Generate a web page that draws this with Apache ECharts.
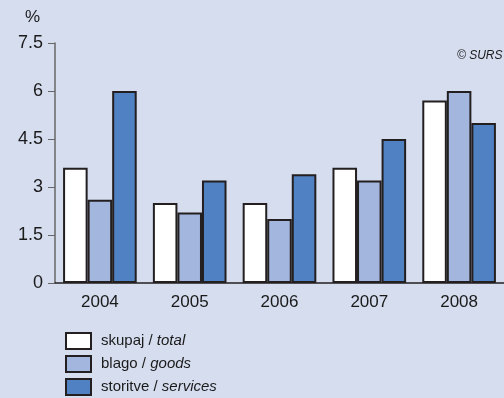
<!DOCTYPE html>
<html><head><meta charset="utf-8">
<script src="https://cdn.jsdelivr.net/npm/echarts@6/dist/echarts.min.js"></script>
<style>html,body{margin:0;padding:0;background:#d5ddef}#c{width:504px;height:398px}</style>
</head><body><div id="c"></div>
<script>
const categories = ['2004','2005','2006','2007','2008'];
const total = [3.6, 2.5, 2.5, 3.6, 5.7];
const goods = [2.6, 2.2, 2.0, 3.2, 6.0];
const services = [6.0, 3.2, 3.4, 4.5, 5.0];
const seriesNames = [['skupaj / ','total'],['blago / ','goods'],['storitve / ','services']];
const colors = ['#ffffff','#a3b6dd','#4f81c3'];
const chart = echarts.init(document.getElementById('c'));
const fam = 'Liberation Sans';
const mk = (i, data) => ({
  name: seriesNames[i][0] + seriesNames[i][1],
  type: 'bar', data, barGap: '0%', barCategoryGap: '18%',
  itemStyle: {color: colors[i], borderColor: '#231f20', borderWidth: 2},
  animation: false
});
chart.setOption({
  backgroundColor: '#d5ddef',
  textStyle: {fontFamily: fam},
  grid: {left: 55, right: -8, top: 43, bottom: 115, containLabel: false},
  graphic: [
    {type: 'text', left: 25, top: 9, style: {text: '%', font: '17px ' + fam, fill: '#1a1a1a'}},
    {type: 'text', left: 457, top: 50, style: {text: '© SURS', font: 'italic 12px ' + fam, fill: '#1a1a1a'}}
  ],
  legend: {
    orient: 'vertical', left: 65, top: 332, height: 70, itemWidth: 25, itemHeight: 16, itemGap: 5,
    padding: 0,
    icon: 'rect',
    itemStyle: {borderColor: '#231f20', borderWidth: 2},
    formatter: n => {
      const s = seriesNames.find(x => x[0] + x[1] === n);
      return '{a|' + s[0] + '}{b|' + s[1] + '}';
    },
    textStyle: {
      color: '#1a1a1a', padding: [0,0,0,5],
      rich: {a: {fontSize: 15, lineHeight: 18, fontFamily: fam, color: '#1a1a1a'},
             b: {fontSize: 15, lineHeight: 18, fontFamily: fam, fontStyle: 'italic', color: '#1a1a1a'}}
    }
  },
  xAxis: {
    type: 'category', data: categories,
    axisLine: {lineStyle: {color: '#231f20', width: 1.5}},
    axisTick: {show: false},
    axisLabel: {fontSize: 17, color: '#1a1a1a', margin: 11}
  },
  yAxis: {
    type: 'value', min: 0, max: 7.5, interval: 1.5,
    axisLine: {show: true, lineStyle: {color: '#666', width: 1.5}},
    axisTick: {show: true, length: 7, lineStyle: {color: '#666'}},
    splitLine: {show: false},
    axisLabel: {fontSize: 18, color: '#1a1a1a', margin: 12, formatter: v => String(v)}
  },
  series: [mk(0, total), mk(1, goods), mk(2, services)]
});
</script></body></html>
